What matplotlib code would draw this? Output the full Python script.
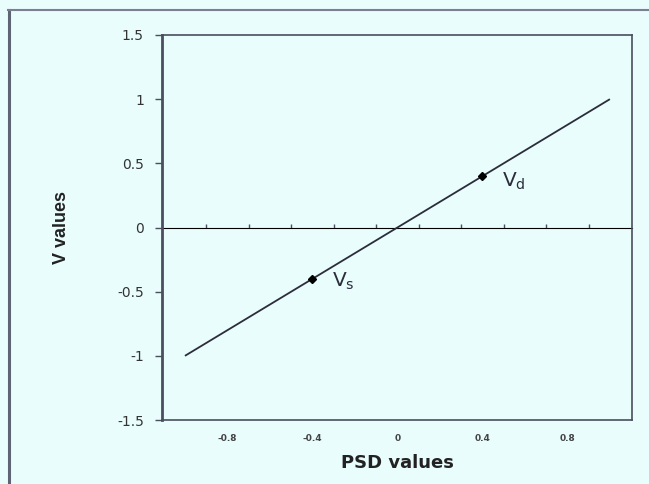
import matplotlib
matplotlib.use("Agg")
import matplotlib.pyplot as plt
from matplotlib.lines import Line2D

# Data
line_x = [-1.0, 1.0]
line_y = [-1.0, 1.0]
point_x = [-0.4, 0.4]
point_y = [-0.4, 0.4]
point_labels = [r"V$_\mathregular{s}$", r"V$_\mathregular{d}$"]
label_x = [-0.31, 0.49]
label_y = [-0.42, 0.36]
y_ticks = [-1.5, -1.0, -0.5, 0.0, 0.5, 1.0, 1.5]
y_ticklabels = ["-1.5", "-1", "-0.5", "0", "0.5", "1", "1.5"]
x_ticks = [-0.8, -0.4, 0.0, 0.4, 0.8]
x_ticklabels = ["-0.8", "-0.4", "0", "0.4", "0.8"]
zero_ticks = [-0.9, -0.7, -0.5, -0.3, -0.1, 0.1, 0.3, 0.5, 0.7, 0.9]

bg = "#E9FDFD"
ink = "#2B2D3A"
spine_c = "#4A4E5E"

plt.rcParams['font.family'] = ['DejaVu Sans']
plt.rcParams['mathtext.fontset'] = 'custom'
plt.rcParams['mathtext.rm'] = 'DejaVu Sans'

fig = plt.figure(figsize=(6.49, 4.84), dpi=100, facecolor=bg)
ax = fig.add_axes([0.2496, 0.1322, 0.7242, 0.7955])
ax.set_facecolor(bg)

ax.plot(line_x, line_y, color=ink, lw=1.3, solid_capstyle='butt')
ax.plot(point_x, point_y, linestyle='none', marker='D', markersize=4, color='black')
for lx, ly, t in zip(label_x, label_y, point_labels):
    ax.text(lx, ly, t, fontsize=14.5, color=ink, va='center', ha='left')

ax.set_xlim(-1.108, 1.104)
ax.set_ylim(-1.5, 1.5)

ax.set_yticks(y_ticks)
ax.set_yticklabels(y_ticklabels, fontsize=10, color='#333333')
ax.tick_params(axis='y', direction='out', length=5, width=1, color=spine_c, pad=8)

ax.set_xticks(x_ticks)
ax.set_xticklabels(x_ticklabels, fontsize=6.5, color='#444444', fontweight='bold')
ax.tick_params(axis='x', length=0, pad=10)

for s in ['top', 'right', 'bottom']:
    ax.spines[s].set_color(spine_c)
    ax.spines[s].set_linewidth(1.2)
ax.spines['left'].set_color(spine_c)
ax.spines['left'].set_linewidth(2.0)

# axis line through zero with small ticks
sec = ax.secondary_xaxis(0.5)
sec.set_xticks(zero_ticks)
sec.set_xticklabels([])
sec.tick_params(axis='x', direction='out', length=3, width=1, color=spine_c)
sec.spines['bottom'].set_color(spine_c)
sec.spines['bottom'].set_linewidth(1.0)

ax.set_xlabel("PSD values", fontsize=13, fontweight='bold', color='#222222', labelpad=8)
ax.set_ylabel("V values", fontsize=13, fontweight='bold', color='#222222', labelpad=34,
              family=['Liberation Sans', 'DejaVu Sans'])

# outer frame (left and top)
fig.add_artist(Line2D([9/649, 9/649], [0, 1 - 10/484], transform=fig.transFigure,
                      color='#5E6474', lw=2.2))
fig.add_artist(Line2D([8/649, 1], [1 - 10/484, 1 - 10/484], transform=fig.transFigure,
                      color='#7A8090', lw=1.5))

fig.savefig("out.png", dpi=100, facecolor=bg)
